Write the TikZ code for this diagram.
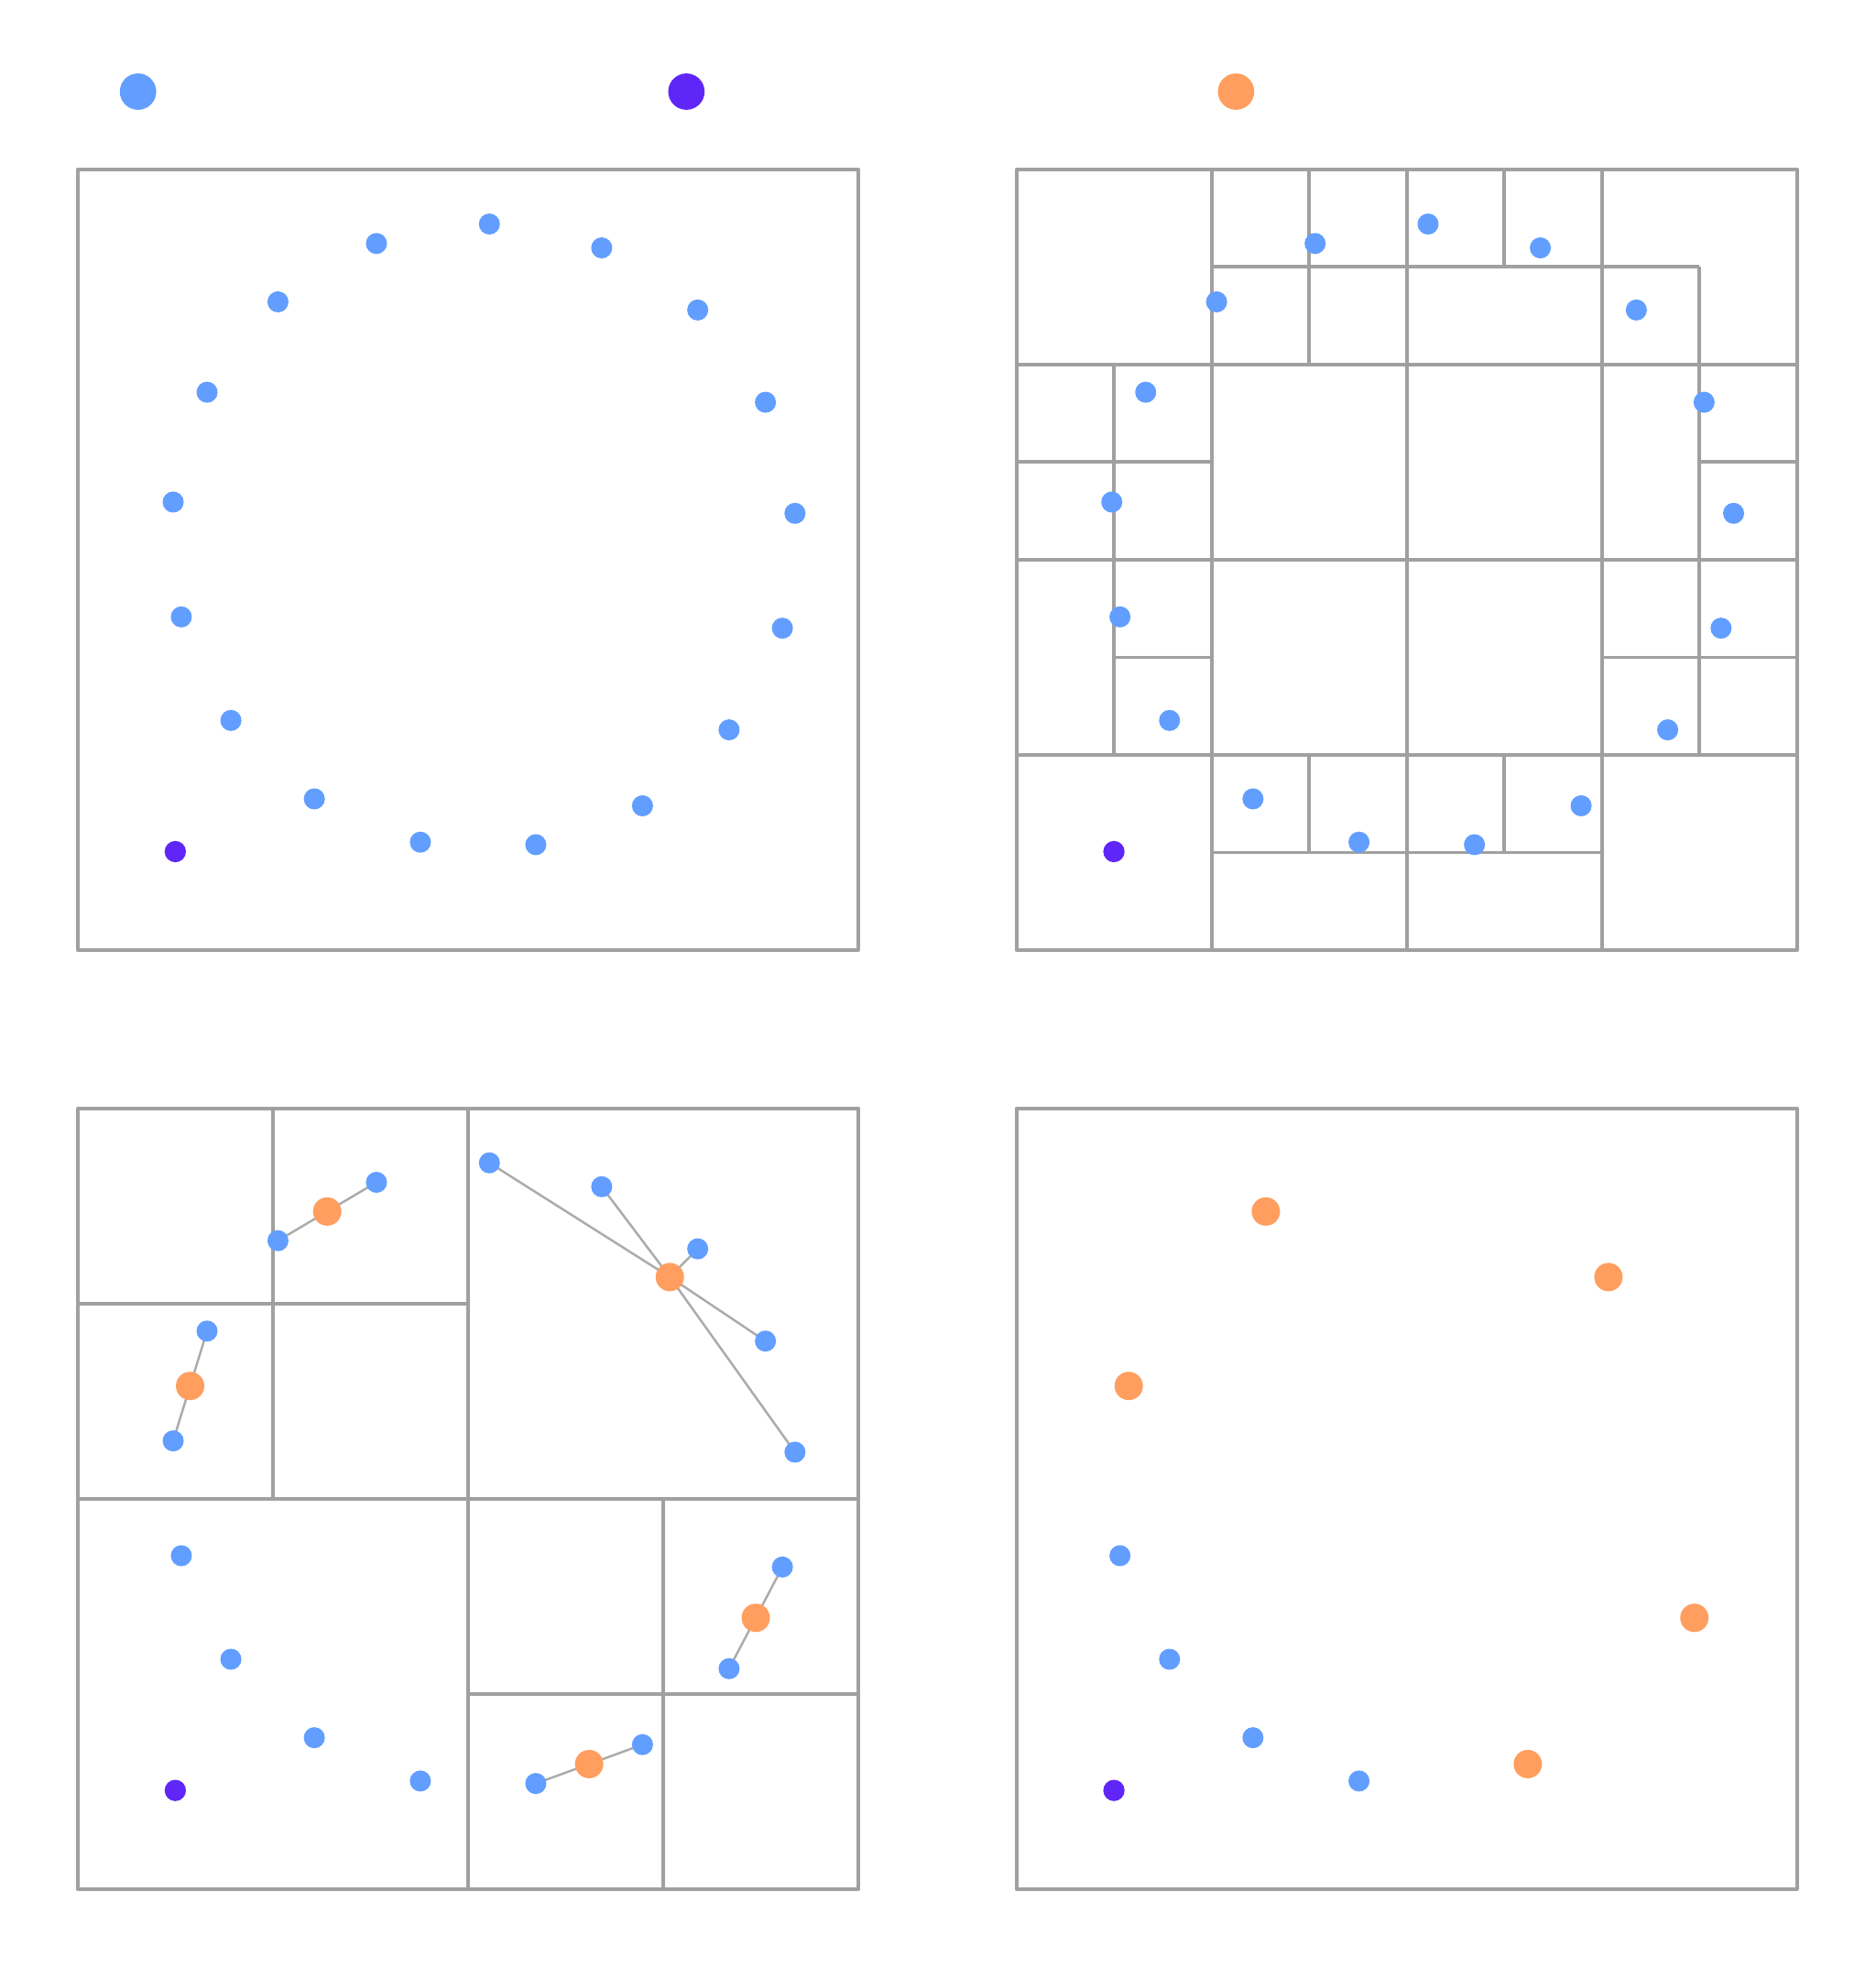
\documentclass[tikz,border=0pt]{standalone}
\definecolor{ptblue}{HTML}{619EFF}
\definecolor{ptpurple}{HTML}{6026F8}
\definecolor{ptorange}{HTML}{FF9E5E}
\definecolor{gridgray}{HTML}{A0A0A0}
\definecolor{linkgray}{HTML}{ABABAB}
\pgfdeclarelayer{bg}
\pgfdeclarelayer{paper}
\pgfsetlayers{paper,bg,main}
\tikzset{
  pt/.style={circle, fill=ptblue, inner sep=0pt, minimum size=16.8pt},
  ctr/.style={circle, fill=ptorange, inner sep=0pt, minimum size=22.6pt},
  src/.style={circle, fill=ptpurple, inner sep=0pt, minimum size=17pt},
  legdot/.style={circle, inner sep=0pt, minimum size=29pt},
  gridline/.style={draw=gridgray, line width=2.9pt, line join=round},
  link/.style={draw=linkgray, line width=1.8pt},
}
\newcommand\myptlist{1/221.5/240.5, 2/300/194, 3/390/178.5, 4/479.5/197.5, 5/556/247, 6/610/320.5, 7/633.5/409, 8/623.5/500.5, 9/581/581.5, 10/512/642, 11/427/673, 12/335/671, 13/250.5/636.5, 14/184/574, 15/144.5/491.5, 16/138/400, 17/165/312.5}
\begin{document}
\begin{tikzpicture}[x=1pt,y=-1pt]
\useasboundingbox (0,0) rectangle (1495,1568);
\begin{pgfonlayer}{paper}
  \fill[white] (0,0) rectangle (1495,1568);
\end{pgfonlayer}

% legend
\node[legdot, fill=ptblue] (legA) at (110,73) {};
\node[legdot, fill=ptpurple] (legB) at (547,73) {};
\node[legdot, fill=ptorange] (legC) at (985,73) {};

% ---------- panel 1 ----------
\begin{scope}
  \draw[gridline] (62,135) rectangle (684,757);
  \foreach \n/\x/\y in \myptlist { \node[pt] (a-\n) at (\x,\y) {}; }
  \node[src] (a-s) at (139.7,678.5) {};
\end{scope}

% ---------- panel 2 ----------
\begin{scope}[shift={(810,135)}, x=77.75pt, y=-77.75pt]
  \draw[gridline] (0,0) rectangle (8,8);
  \foreach \xa/\ya/\xb/\yb in {2/0/2/8, 4/0/4/8, 6/0/6/8, 0/2/8/2, 0/4/8/4, 0/6/8/6,
      2/1/7/1, 3/0/3/2, 5/0/5/1, 7/1/7/6, 1/2/1/6, 0/3/2/3, 1/5/2/5, 7/3/8/3, 6/5/8/5,
      3/6/3/7, 5/6/5/7, 2/7/6/7}
    { \draw[gridline] (\xa,\ya) -- (\xb,\yb); }
\end{scope}
\begin{scope}[shift={(748,0)}]
  \foreach \n/\x/\y in \myptlist { \node[pt] (b-\n) at (\x,\y) {}; }
  \node[src] (b-s) at (139.7,678.5) {};
\end{scope}

% ---------- panel 3 ----------
\begin{scope}[shift={(62,883)}, x=77.75pt, y=-77.75pt]
  \draw[gridline] (0,0) rectangle (8,8);
  \foreach \xa/\ya/\xb/\yb in {4/0/4/8, 0/4/8/4, 2/0/2/4, 0/2/4/2, 6/4/6/8, 4/6/8/6}
    { \draw[gridline] (\xa,\ya) -- (\xb,\yb); }
\end{scope}
\begin{scope}[shift={(0,748)}]
  \foreach \n/\x/\y in \myptlist { \node[pt] (c-\n) at (\x,\y) {}; }
  \node[src] (c-s) at (139.7,678.5) {};
  \node[ctr] (cA) at (260.75,217.25) {};
  \node[ctr] (cB) at (151.5,356.25) {};
  \node[ctr] (cC) at (533.8,269.5) {};
  \node[ctr] (cD) at (602.25,541) {};
  \node[ctr] (cE) at (469.5,657.5) {};
\end{scope}
\begin{pgfonlayer}{bg}
  \foreach \k in {1,2} { \draw[link] (cA.center) -- (c-\k.center); }
  \foreach \k in {16,17} { \draw[link] (cB.center) -- (c-\k.center); }
  \foreach \k in {3,4,5,6,7} { \draw[link] (cC.center) -- (c-\k.center); }
  \foreach \k in {8,9} { \draw[link] (cD.center) -- (c-\k.center); }
  \foreach \k in {10,11} { \draw[link] (cE.center) -- (c-\k.center); }
\end{pgfonlayer}

% ---------- panel 4 ----------
\draw[gridline] (810,883) rectangle (1432,1505);
\begin{scope}[shift={(748,748)}]
  \foreach \n/\x/\y in {12/335/671, 13/250.5/636.5, 14/184/574, 15/144.5/491.5}
    { \node[pt] (d-\n) at (\x,\y) {}; }
  \node[src] (d-s) at (139.7,678.5) {};
  \node[ctr] (dA) at (260.75,217.25) {};
  \node[ctr] (dB) at (151.5,356.25) {};
  \node[ctr] (dC) at (533.8,269.5) {};
  \node[ctr] (dD) at (602.25,541) {};
  \node[ctr] (dE) at (469.5,657.5) {};
\end{scope}
\end{tikzpicture}
\end{document}
